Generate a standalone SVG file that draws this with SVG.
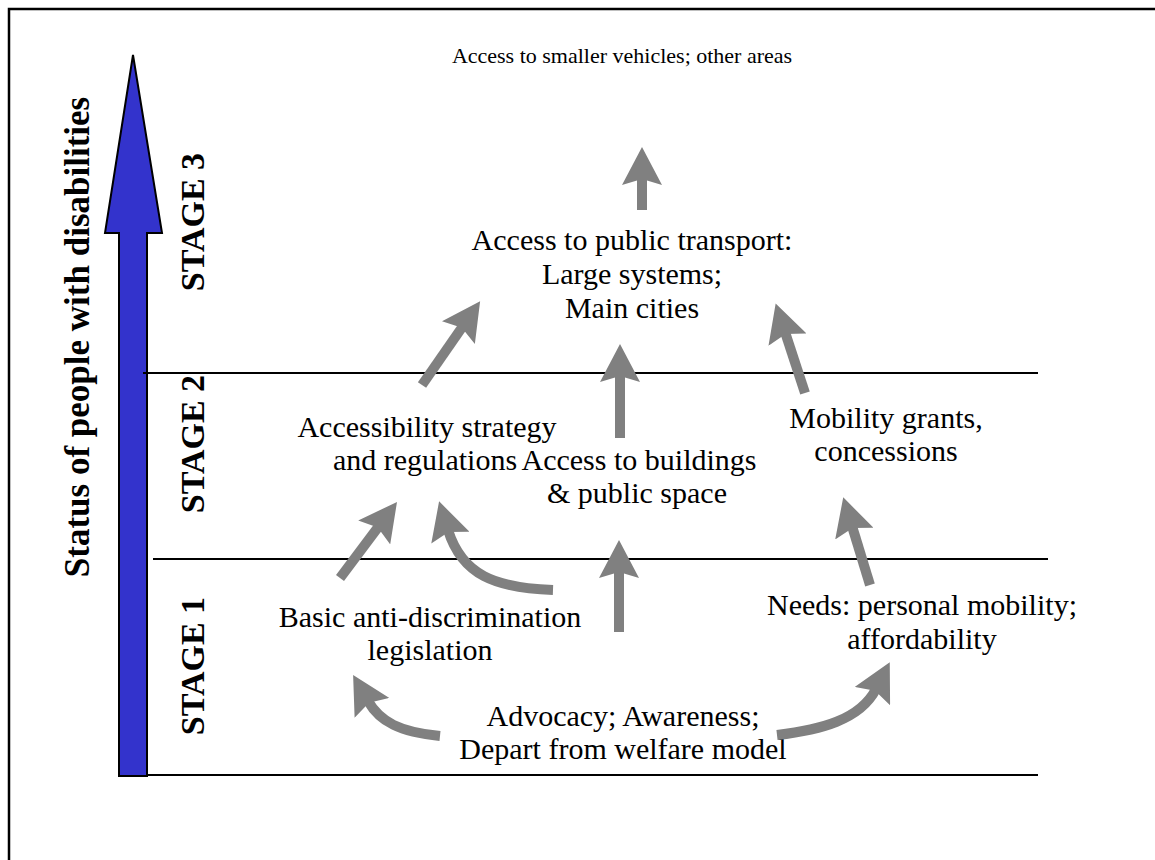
<svg xmlns="http://www.w3.org/2000/svg" width="1155" height="860" viewBox="0 0 1155 860">
<style>
.t{font-family:"Liberation Serif","Times New Roman",serif;font-size:30px;fill:#000;text-anchor:middle}
.t22{font-size:22px}
.s{font-family:"Liberation Serif","Times New Roman",serif;font-size:34px;font-weight:bold;fill:#000;text-anchor:middle}
.s35{font-size:35px}
.hl{stroke:#000;stroke-width:2;fill:none}
.ga{stroke:#808080;stroke-width:10;fill:none;marker-end:url(#ah)}
</style>
<defs>
<marker id="ah" markerUnits="userSpaceOnUse" markerWidth="40" markerHeight="40" viewBox="0 0 40 40" refX="8" refY="20" orient="auto">
<path d="M0,0 L38,20 L0,40 L6,20 z" fill="#808080"/>
</marker>
</defs>
<rect x="0" y="0" width="1155" height="860" fill="#fff"/>
<rect x="9" y="9" width="1170" height="880" fill="none" stroke="#000" stroke-width="2.5"/>
<g id="axis">
<path d="M119,776 L119,233 L105,233 L133,55 L162,233 L147,233 L147,776 Z" fill="#3333cc" stroke="#000" stroke-width="2"/>
<text class="s s35" transform="translate(89,337) rotate(-90)">Status of people with disabilities</text>
</g>
<g id="stage-lines">
<line class="hl" x1="143" y1="373" x2="1038" y2="373"/>
<line class="hl" x1="153" y1="559" x2="1048" y2="559"/>
<line class="hl" x1="147" y1="775" x2="1038" y2="775"/>
</g>
<g id="stage3"><text class="s" transform="translate(204,222) rotate(-90)">STAGE 3</text></g>
<g id="stage2"><text class="s" transform="translate(204,444) rotate(-90)">STAGE 2</text></g>
<g id="stage1"><text class="s" transform="translate(204,666) rotate(-90)">STAGE 1</text></g>
<g id="n-smaller"><text class="t t22" x="622" y="63">Access to smaller vehicles; other areas</text></g>
<g id="n-public"><text class="t" x="632" y="250">Access to public transport:</text><text class="t" x="632" y="284">Large systems;</text><text class="t" x="632" y="318">Main cities</text></g>
<g id="n-strategy"><text class="t" x="427" y="437">Accessibility strategy</text><text class="t" x="425" y="470">and regulations</text></g>
<g id="n-buildings"><text class="t" x="639" y="470">Access to buildings</text><text class="t" x="637" y="503">&amp; public space</text></g>
<g id="n-grants"><text class="t" x="886" y="428">Mobility grants,</text><text class="t" x="886" y="461">concessions</text></g>
<g id="n-legislation"><text class="t" x="430" y="627">Basic anti-discrimination</text><text class="t" x="430" y="660">legislation</text></g>
<g id="n-needs"><text class="t" x="922" y="615">Needs: personal mobility;</text><text class="t" x="922" y="649">affordability</text></g>
<g id="n-advocacy"><text class="t" x="623" y="726">Advocacy; Awareness;</text><text class="t" x="623" y="759">Depart from welfare model</text></g>
<g id="connectors">
<path class="ga" d="M642,210 L642,177"/>
<path class="ga" d="M620,438 L620,374"/>
<path class="ga" d="M619,632 L619,570"/>
<path class="ga" d="M422,385 L463,326"/>
<path class="ga" d="M805,393 L785,332"/>
<path class="ga" d="M870,585 L852,526"/>
<path class="ga" d="M340,578 L379,526"/>
<path class="ga" d="M553,590 C495,588 462,575 448,530"/>
<path class="ga" d="M440,736 C400,732 380,722 368,701"/>
<path class="ga" d="M777,735 C820,730 860,720 876,689"/>
</g>
</svg>
